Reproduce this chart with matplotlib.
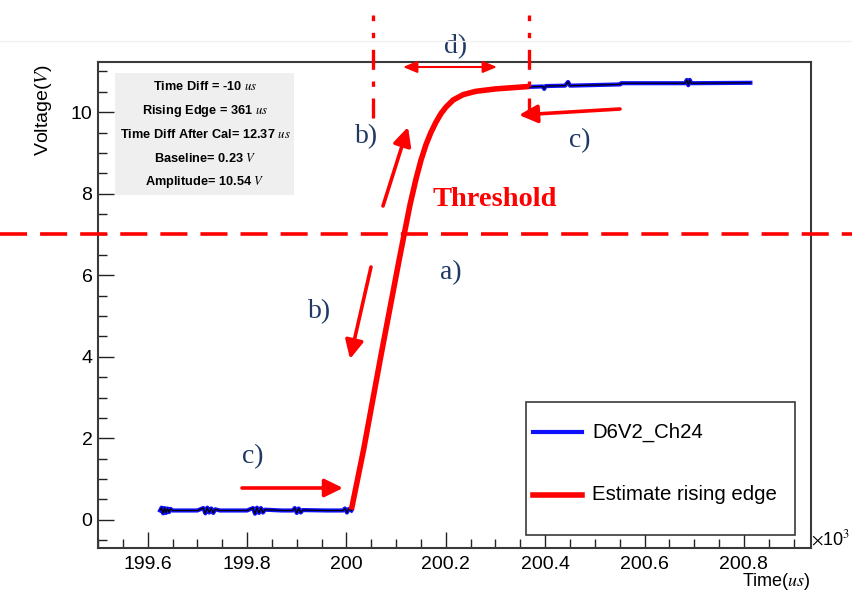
import matplotlib
matplotlib.use("Agg")
import matplotlib.pyplot as plt
from matplotlib.ticker import MultipleLocator
from matplotlib.patches import Rectangle
from matplotlib.lines import Line2D
import matplotlib.transforms as mtransforms

plt.rcParams['font.family'] = ['Liberation Sans', 'DejaVu Sans']
plt.rcParams['mathtext.fontset'] = 'stix'

# ---------------- data (time in units of 10^3 us, voltage in V) ----------------
blue_left_t = [199.625, 199.628, 199.631, 199.634, 199.637, 199.640, 199.643, 199.646,
               199.650, 199.700, 199.712, 199.716, 199.720, 199.724, 199.728, 199.732,
               199.736, 199.745, 199.800, 199.812, 199.816, 199.820, 199.824, 199.828,
               199.832, 199.836, 199.870, 199.892, 199.896, 199.900, 199.904, 199.908,
               199.912, 199.960, 199.993, 199.997, 200.001, 200.005, 200.010]
blue_left_v = [0.23, 0.30, 0.16, 0.29, 0.17, 0.28, 0.19, 0.27,
               0.23, 0.23, 0.29, 0.16, 0.30, 0.18, 0.28, 0.17,
               0.26, 0.23, 0.23, 0.29, 0.15, 0.30, 0.17, 0.29,
               0.18, 0.25, 0.23, 0.23, 0.29, 0.17, 0.28, 0.18,
               0.24, 0.23, 0.23, 0.28, 0.18, 0.27, 0.23]

blue_right_t = [200.368, 200.395, 200.398, 200.401, 200.440, 200.446, 200.450, 200.551,
                200.553, 200.682, 200.685, 200.688, 200.691, 200.694, 200.813]
blue_right_v = [10.62, 10.63, 10.57, 10.64, 10.65, 10.74, 10.65, 10.68,
                10.71, 10.71, 10.79, 10.66, 10.79, 10.71, 10.72]

red_t = [200.010, 200.035, 200.069, 200.106, 200.116, 200.128, 200.140, 200.150,
         200.160, 200.170, 200.180, 200.190, 200.200, 200.215, 200.235, 200.260,
         200.300, 200.368]
red_v = [0.25, 1.75, 4.00, 6.37, 6.99, 7.73, 8.36, 8.82,
         9.20, 9.50, 9.75, 9.96, 10.12, 10.30, 10.43, 10.51,
         10.57, 10.63]

threshold_v = 7.0
window_t = [200.053, 200.368]

series_names = ["D6V2_Ch24", "Estimate rising edge"]
series_colors = ['#1010ff', '#ff0000']

stats_lines = ["Time Diff = -10 $us$",
               "Rising Edge = 361 $us$",
               "Time Diff After Cal= 12.37 $us$",
               "Baseline= 0.23 $V$",
               "Amplitude= 10.54 $V$"]

x_limits = (199.5, 200.935)
y_limits = (-0.69, 11.23)

# ---------------- figure ----------------
W, H = 852, 592
fig = plt.figure(figsize=(W / 100, H / 100), dpi=100)
ax = fig.add_axes([98 / W, 1 - 548 / H, (811 - 98) / W, (548 - 62) / H])

def fx(x):
    return x / W

def fy(y):
    return 1 - y / H

def fp(x, y):
    """pixel (from top-left) -> figure pixels (from bottom-left)"""
    return (x, H - y)

# faint line at top of image
fig.add_artist(Line2D([0, 1], [fy(41)] * 2, color='#f0f0f0', lw=1))

# curves
ax.plot(blue_left_t, blue_left_v, color=series_colors[0], lw=3.0, zorder=3)
ax.plot(blue_left_t, blue_left_v, color='black', lw=0.9, zorder=4)
ax.plot(blue_right_t, blue_right_v, color=series_colors[0], lw=3.0, zorder=3)
ax.plot(blue_right_t, blue_right_v, color='black', lw=0.9, zorder=4)
ax.plot(red_t, red_v, color=series_colors[1], lw=4.0, zorder=5, solid_capstyle='butt',
        solid_joinstyle='round')

ax.set_xlim(*x_limits)
ax.set_ylim(*y_limits)

# threshold line across whole figure
trans = mtransforms.blended_transform_factory(fig.transFigure, ax.transData)
ax.plot([0, 1], [threshold_v, threshold_v], transform=trans, color='#ff0000', lw=2.6,
        dashes=(7.5, 3.6), clip_on=False, zorder=6)

# window dash-dot lines
for t in window_t:
    ax.plot([t, t], [9.85, 12.38], color='#ff0000', lw=2.4, dashes=(6, 3.5, 1.6, 3.5),
            clip_on=False, zorder=6)

# axes style
for sp in ax.spines.values():
    sp.set_linewidth(1.5)
    sp.set_color('#3a3a3a')
ax.xaxis.set_major_locator(MultipleLocator(0.2))
ax.xaxis.set_minor_locator(MultipleLocator(0.05))
ax.yaxis.set_major_locator(MultipleLocator(2))
ax.yaxis.set_minor_locator(MultipleLocator(0.5))
ax.tick_params(which='both', direction='in', top=False, right=False, color='#222222',
               width=1.0, labelsize=14)
ax.tick_params(which='major', length=11.5)
ax.tick_params(axis='x', which='major', pad=6)
ax.tick_params(axis='y', which='major', pad=4)
ax.tick_params(which='minor', length=6.5)
ax.xaxis.set_major_formatter(matplotlib.ticker.FuncFormatter(lambda v, p: f"{v:g}"))

ax.set_ylabel("Voltage($V$)", fontsize=14)
ax.yaxis.set_label_coords((54 - 98) / 713, (548 - 110) / 486)
ax.set_xlabel("Time($us$)", fontsize=13, ha='right', va='baseline')
ax.xaxis.set_label_coords(1.0, (548 - 586) / 486)
fig.text(fx(811), fy(549), r"$\times$10$^3$", fontsize=13, ha='left', va='bottom',
         family=['Liberation Sans'])

# stats box
fig.add_artist(Rectangle((fx(115), fy(195)), (294 - 115) / W, (195 - 73) / H,
                         transform=fig.transFigure, facecolor='#efefef', edgecolor='none'))
for i, s in enumerate(stats_lines):
    fig.text(fx(205), fy(87 + 23.8 * i), s, fontsize=9.2, fontweight='bold',
             ha='center', va='center')

# legend box (ROOT-style TLegend)
fig.add_artist(Rectangle((fx(526), fy(535)), (795 - 526) / W, (535 - 402) / H,
                         transform=fig.transFigure, facecolor='white',
                         edgecolor='#3a3a3a', lw=1.2, zorder=7))
leg_rows = [432, 495]
leg_lw = [3.0, 4.0]
for name, col, lw, yy in zip(series_names, series_colors, leg_lw, leg_rows):
    fig.add_artist(Line2D([fx(533), fx(582)], [fy(yy)] * 2, color=col, lw=lw, zorder=8))
    fig.text(fx(592), fy(yy), name, fontsize=14.7, ha='left', va='center', zorder=8)

# annotations
navy = '#1f3864'
labels = [("d)", 456, 47), ("b)", 367, 137), ("c)", 580, 141), ("a)", 451, 273),
          ("b)", 320, 312), ("c)", 253, 457)]
for txt, x, y in labels:
    ax.annotate(txt, xy=fp(x, y), xycoords='figure pixels', fontsize=20, color=navy,
                family=['Liberation Serif'], ha='center', va='center', annotation_clip=False)
ax.annotate("Threshold", xy=fp(495, 200), xycoords='figure pixels', fontsize=20.5,
            color='#ff0000', family=['Liberation Serif'], fontweight='bold',
            ha='center', va='center', annotation_clip=False)

arrows = [((620, 109), (519, 115)), ((383, 206), (408, 127)), ((371, 267), (350, 359)),
          ((242, 488), (343, 488))]
for (x0, y0), (x1, y1) in arrows:
    ax.annotate("", xy=fp(x1, y1), xytext=fp(x0, y0), xycoords='figure pixels',
                textcoords='figure pixels', annotation_clip=False,
                arrowprops=dict(arrowstyle='-|>,head_length=0.65,head_width=0.32',
                                color='#ff0000', lw=2.6, mutation_scale=17,
                                shrinkA=0, shrinkB=0))
ax.annotate("", xy=fp(497, 67), xytext=fp(403, 67), xycoords='figure pixels',
            textcoords='figure pixels', annotation_clip=False,
            arrowprops=dict(arrowstyle='<|-|>,head_length=0.6,head_width=0.25',
                            color='#ff0000', lw=1.5, mutation_scale=14,
                            shrinkA=0, shrinkB=0))

fig.savefig("out.png", dpi=100)
